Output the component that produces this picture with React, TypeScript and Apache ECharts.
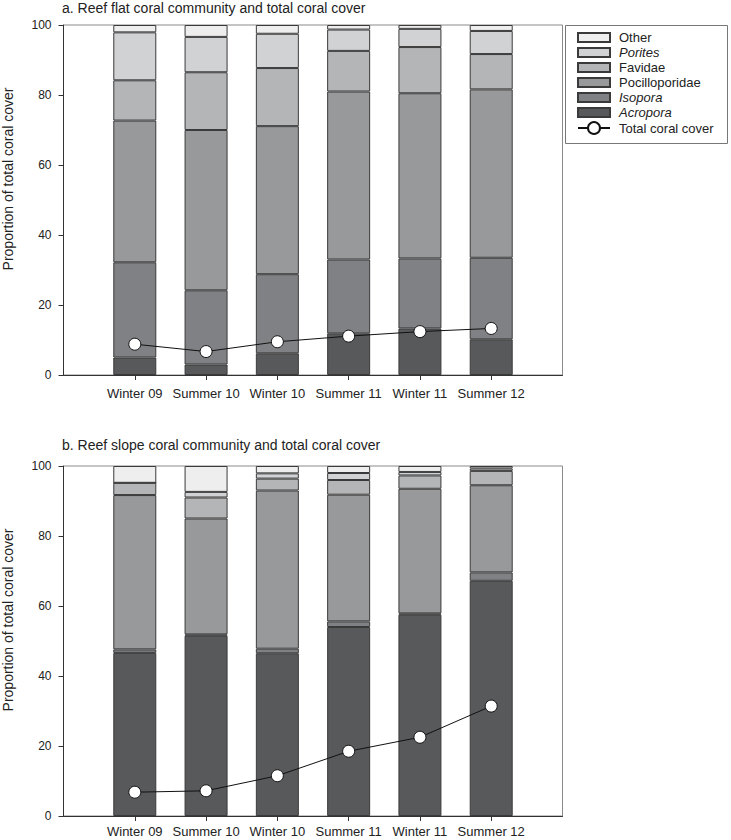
import React, { useEffect, useRef } from "react";
import * as echarts from "echarts";

const categories = ["Winter 09", "Summer 10", "Winter 10", "Summer 11", "Winter 11", "Summer 12"];
const yTicks = [0, 20, 40, 60, 80, 100];

// a. Reef flat — proportion of total coral cover per taxon (segment sizes)
const flatAcropora = [5.0, 3.0, 6.2, 11.9, 13.3, 10.2];
const flatIsopora = [27.2, 21.2, 22.6, 21.1, 20.0, 23.3];
const flatPocilloporidae = [40.5, 45.8, 42.3, 48.0, 47.2, 48.1];
const flatFavidae = [11.5, 16.5, 16.6, 11.6, 13.2, 10.1];
const flatPorites = [13.7, 10.1, 9.8, 6.1, 5.2, 6.6];
const flatOther = [2.1, 3.4, 2.5, 1.3, 1.1, 1.7];
const flatTotalCover = [8.8, 6.7, 9.5, 11.1, 12.4, 13.3];

// b. Reef slope
const slopeAcropora = [46.6, 51.5, 46.5, 54.0, 57.5, 67.2];
const slopeIsopora = [1.0, 0.4, 1.3, 1.6, 0.4, 2.4];
const slopePocilloporidae = [44.1, 33.1, 45.2, 36.2, 35.6, 24.9];
const slopeFavidae = [3.5, 6.0, 3.4, 4.2, 3.8, 4.1];
const slopePorites = [0.0, 1.6, 1.5, 2.0, 1.0, 0.7];
const slopeOther = [4.8, 7.4, 2.1, 2.0, 1.7, 0.7];
const slopeTotalCover = [6.8, 7.2, 11.5, 18.5, 22.5, 31.4];

const taxa = ["Acropora", "Isopora", "Pocilloporidae", "Favidae", "Porites", "Other"];
const italicTaxa = ["Acropora", "Isopora", "Porites"];
const taxaColors = ["#58595b", "#808184", "#98999b", "#b4b5b7", "#d1d2d4", "#eeeeef"];

const FONT = "'Liberation Sans', Arial, sans-serif";

export default function App() {
  const ref = useRef<HTMLDivElement>(null);

  useEffect(() => {
    if (!ref.current) return;
    const chart = echarts.init(ref.current, null, { renderer: "svg" });

    const flatSets = [flatAcropora, flatIsopora, flatPocilloporidae, flatFavidae, flatPorites, flatOther];
    const slopeSets = [slopeAcropora, slopeIsopora, slopePocilloporidae, slopeFavidae, slopePorites, slopeOther];
    // axis runs one empty slot beyond the first and last category
    const axisCats = ["", ...categories, ""];
    const pad = (vals: number[]) => [null, ...vals, null];

    const barSeries = (sets: number[][], idx: number, stack: string) =>
      sets.map((vals, k) => ({
        type: "bar",
        name: taxa[k],
        xAxisIndex: idx,
        yAxisIndex: idx,
        stack,
        barWidth: 43,
        data: pad(vals),
        itemStyle: { color: taxaColors[k], borderColor: "#3a3a3a", borderWidth: 1 },
        emphasis: { disabled: true },
      }));

    const lineSeries = (vals: number[], idx: number) => ({
      type: "line",
      name: "Total coral cover",
      xAxisIndex: idx,
      yAxisIndex: idx,
      z: 5,
      data: pad(vals),
      symbol: "circle",
      symbolSize: 12,
      itemStyle: { color: "#ffffff", borderColor: "#111111", borderWidth: 1 },
      lineStyle: { color: "#111111", width: 1 },
      emphasis: { disabled: true },
    });

    const xAxis = (idx: number) => ({
      type: "category",
      gridIndex: idx,
      data: axisCats,
      boundaryGap: false,
      splitLine: { show: false },
      axisLine: { show: true, lineStyle: { color: "#333", width: 1 } },
      axisTick: {
        show: true,
        length: 5,
        lineStyle: { color: "#333" },
        interval: (i: number) => i > 0 && i < axisCats.length - 1,
      },
      axisLabel: {
        interval: 0,
        margin: idx === 0 ? 12 : 9,
        fontSize: 13,
        color: "#222",
        fontFamily: FONT,
      },
    });

    const yAxis = (idx: number) => ({
      type: "value",
      gridIndex: idx,
      min: 0,
      max: 100,
      interval: 20,
      splitLine: { show: false },
      axisLine: { show: true, lineStyle: { color: "#333", width: 1 } },
      axisTick: { show: true, length: 5, lineStyle: { color: "#333" } },
      axisLabel: {
        margin: 12,
        fontSize: 12,
        color: "#222",
        fontFamily: FONT,
        customValues: yTicks,
      },
      name: "Proportion of total coral cover",
      nameLocation: "middle",
      nameGap: 49,
      nameTextStyle: { fontSize: 14, color: "#222", fontFamily: FONT, padding: [0, 0, 0, 42] },
    });

    const legendItems = [...taxa].reverse().map((name) => ({
      name,
      textStyle: italicTaxa.includes(name) ? { fontStyle: "italic" } : {},
    }));

    chart.setOption({
      animation: false,
      textStyle: { fontFamily: FONT },
      title: [
        {
          text: "a. Reef flat coral community and total coral cover",
          left: 62,
          top: 1,
          padding: 0,
          textStyle: { fontSize: 14, fontWeight: "normal", color: "#222", fontFamily: FONT },
        },
        {
          text: "b. Reef slope coral community and total coral cover",
          left: 62,
          top: 438,
          padding: 0,
          textStyle: { fontSize: 14, fontWeight: "normal", color: "#222", fontFamily: FONT },
        },
      ],
      grid: [
        {
          left: 63.5, top: 25, width: 499, height: 350,
          show: true, borderColor: "#8a8a8a", borderWidth: 1,
          containLabel: false, outerBoundsMode: "none",
        },
        {
          left: 63.5, top: 466, width: 499, height: 350,
          show: true, borderColor: "#8a8a8a", borderWidth: 1,
          containLabel: false, outerBoundsMode: "none",
        },
      ],
      xAxis: [xAxis(0), xAxis(1)],
      yAxis: [yAxis(0), yAxis(1)],
      legend: [
        {
          orient: "vertical",
          left: 577,
          top: 30,
          padding: 0,
          itemGap: 0,
          itemWidth: 32,
          itemHeight: 9,
          icon: "rect",
          selectedMode: false,
          data: legendItems,
          textStyle: { fontSize: 13, lineHeight: 15, color: "#222", fontFamily: FONT, padding: [0, 0, 0, 4] },
        },
        {
          orient: "vertical",
          left: 577,
          top: 121,
          padding: 0,
          itemWidth: 32,
          itemHeight: 15,
          selectedMode: false,
          data: ["Total coral cover"],
          textStyle: { fontSize: 13, color: "#222", fontFamily: FONT, padding: [0, 0, 0, 4] },
        },
      ],
      graphic: [
        {
          type: "rect",
          shape: { x: 565.5, y: 25.5, width: 162, height: 118 },
          style: { fill: "none", stroke: "#777", lineWidth: 1 },
          silent: true,
        },
      ],
      series: [
        ...barSeries(flatSets, 0, "flat"),
        lineSeries(flatTotalCover, 0),
        ...barSeries(slopeSets, 1, "slope"),
        lineSeries(slopeTotalCover, 1),
      ],
    });

    return () => chart.dispose();
  }, []);

  return (
    <div
      ref={ref}
      style={{ position: "fixed", left: 0, top: 0, width: 731, height: 840, background: "#fff" }}
    />
  );
}
